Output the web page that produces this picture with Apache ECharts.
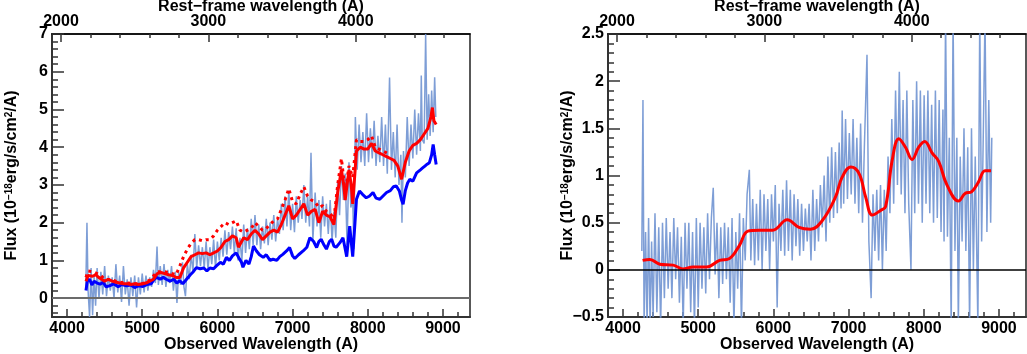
<!DOCTYPE html>
<html>
<head>
<meta charset="utf-8">
<title>Spectrum</title>
<script src="https://cdn.jsdelivr.net/npm/echarts@6/dist/echarts.min.js"></script>
<style>
  html, body { margin: 0; padding: 0; background: #fff; }
  #main { width: 1027px; height: 354px; }
</style>
</head>
<body>
<div id="main"></div>
<script>
// observed / rest-frame wavelength ratio (1+z)
var zFactor = 1.96;
var obsMin = 3800, obsMax = 9360;

// tick values
var obsMajor = [4000, 5000, 6000, 7000, 8000, 9000];
var obsMinor = [4200, 4400, 4600, 4800, 5200, 5400, 5600, 5800, 6200, 6400, 6600, 6800,
                7200, 7400, 7600, 7800, 8200, 8400, 8600, 8800, 9200];
var restMajor = [2000, 3000, 4000];
var restMinor = [2200, 2400, 2600, 2800, 3200, 3400, 3600, 3800, 4200, 4400, 4600];
var fluxMajorL = [0, 1, 2, 3, 4, 5, 6, 7];
var fluxMajorR = [-0.5, 0, 0.5, 1, 1.5, 2, 2.5];

// left panel: observed spectrum (noisy)
var specL = [[4250,0.3],[4265,2.0],[4280,0.2],[4300,-0.5],[4320,0.8],[4340,-0.45],[4360,0.6],[4380,-0.2],
  [4400,0.8],[4425,0.0],[4450,0.7],[4475,0.1],[4500,0.85],[4525,0.05],[4550,0.6],[4575,0.2],[4600,0.55],
  [4625,0.0],[4650,0.9],[4675,0.15],[4700,0.6],[4725,-0.1],[4750,0.85],[4775,0.1],[4800,0.5],[4825,-0.2],
  [4850,0.55],[4875,0.05],[4900,0.6],[4925,-0.25],[4950,0.55],[4975,0.1],[5000,0.65],[5025,0.15],[5050,0.6],
  [5075,0.2],[5100,0.55],[5125,0.3],[5150,0.75],[5175,0.4],[5197,1.37],[5215,0.35],[5240,0.85],[5265,0.35],
  [5290,0.9],[5315,0.3],[5340,0.75],[5365,0.4],[5390,0.85],[5415,0.2],[5440,0.7],[5462,-0.13],[5485,0.7],
  [5510,0.35],[5535,0.95],[5555,0.3],[5575,0.05],[5600,0.9],[5625,0.5],[5650,1.15],[5675,0.7],[5700,1.7],
  [5725,0.8],[5750,1.4],[5775,0.85],[5800,1.35],[5825,0.8],[5850,1.5],[5875,0.75],[5900,1.35],[5925,0.9],
  [5950,1.55],[5975,0.8],[6000,1.5],[6025,1.0],[6050,1.6],[6075,1.1],[6100,1.8],[6125,1.15],[6150,1.75],
  [6175,1.3],[6200,1.9],[6225,1.2],[6250,1.85],[6275,1.0],[6300,1.6],[6325,0.95],[6350,1.95],[6375,1.2],
  [6400,1.85],[6425,1.3],[6450,2.1],[6475,1.4],[6500,2.2],[6525,1.4],[6550,1.95],[6575,1.3],[6600,1.9],
  [6625,1.45],[6650,2.1],[6675,1.4],[6700,2.0],[6725,1.55],[6750,2.2],[6775,1.5],[6800,2.1],[6825,1.7],
  [6850,2.5],[6875,1.8],[6900,2.7],[6925,1.9],[6950,2.85],[6975,1.8],[7000,2.5],[7025,1.75],[7050,2.7],
  [7075,2.0],[7100,2.6],[7125,2.1],[7150,3.0],[7175,2.0],[7200,2.7],[7225,1.9],[7245,3.85],[7270,1.5],
  [7300,2.8],[7325,1.9],[7350,2.6],[7375,1.6],[7400,2.7],[7425,1.9],[7450,2.5],[7475,1.7],[7500,2.6],
  [7525,1.5],[7550,2.3],[7575,1.6],[7600,3.1],[7625,2.2],[7650,3.5],[7675,2.6],[7700,3.3],[7725,1.4],
  [7750,3.6],[7775,2.4],[7800,2.6],[7815,1.3],[7835,4.8],[7860,3.4],[7885,4.6],[7910,3.6],[7935,4.4],
  [7960,3.5],[7985,4.9],[8010,3.6],[8035,4.5],[8060,3.7],[8085,4.7],[8110,3.5],[8135,4.3],[8160,3.6],
  [8185,4.8],[8210,3.5],[8235,4.6],[8260,3.3],[8290,5.85],[8315,3.4],[8340,4.4],[8365,3.2],[8390,4.6],
  [8415,3.0],[8440,3.8],[8455,2.0],[8475,3.9],[8500,3.2],[8525,4.8],[8550,3.5],[8575,4.6],[8600,3.7],
  [8625,5.0],[8650,3.8],[8675,4.9],[8700,3.9],[8712,5.9],[8725,4.2],[8750,4.1],[8770,7.0],[8790,4.2],
  [8810,5.4],[8830,4.3],[8850,5.5],[8870,4.4],[8890,5.85],[8905,4.8]];

// left panel: model fits
var blueL = [[4252,0.2],[4270,0.45],[4300,0.5],[4330,0.35],[4360,0.45],[4400,0.4],[4440,0.37],[4480,0.42],
  [4520,0.3],[4570,0.33],[4620,0.38],[4680,0.3],[4730,0.36],[4790,0.33],[4850,0.35],[4900,0.28],[4950,0.33],
  [5010,0.31],[5060,0.36],[5120,0.38],[5160,0.5],[5190,0.55],[5240,0.5],[5280,0.55],[5320,0.5],[5370,0.45],
  [5420,0.5],[5460,0.4],[5500,0.46],[5540,0.38],[5590,0.5],[5640,0.62],[5680,0.7],[5720,0.81],[5770,0.78],
  [5820,0.8],[5860,0.72],[5900,0.8],[5950,0.78],[5990,0.86],[6040,0.95],[6080,0.9],[6120,1.08],[6160,1.0],
  [6200,1.12],[6250,1.2],[6290,1.05],[6320,0.95],[6340,0.82],[6380,1.0],[6420,0.9],[6450,1.1],[6480,1.38],
  [6520,1.25],[6560,1.15],[6610,1.08],[6650,1.15],[6700,1.0],[6740,1.03],[6790,1.0],[6830,1.1],[6870,1.16],
  [6920,1.25],[6960,1.34],[7000,1.12],[7030,1.05],[7080,1.15],[7140,1.25],[7190,1.35],[7230,1.6],[7280,1.5],
  [7320,1.34],[7350,1.5],[7380,1.56],[7420,1.4],[7450,1.3],[7490,1.5],[7520,1.56],[7550,1.38],[7580,1.35],
  [7630,1.47],[7670,1.6],[7700,1.3],[7720,1.1],[7745,1.6],[7760,1.91],[7780,1.5],[7800,1.1],[7830,2.0],
  [7850,2.62],[7890,2.84],[7930,2.75],[7980,2.66],[8020,2.7],[8070,2.8],[8110,2.65],[8160,2.62],[8200,2.7],
  [8250,2.8],[8300,2.85],[8340,2.95],[8380,2.97],[8420,2.84],[8450,2.6],[8470,2.49],[8500,2.85],[8530,3.05],
  [8560,3.15],[8600,3.1],[8650,3.32],[8700,3.4],[8730,3.45],[8760,3.5],[8790,3.55],[8820,3.59],[8850,3.8],
  [8870,4.07],[8890,3.8],[8910,3.54]];

var redL = [[4252,0.45],[4280,0.6],[4300,0.65],[4340,0.58],[4380,0.62],[4420,0.55],[4460,0.5],[4500,0.45],
  [4550,0.5],[4600,0.45],[4650,0.42],[4700,0.4],[4750,0.38],[4800,0.38],[4850,0.36],[4900,0.38],[4950,0.36],
  [5000,0.38],[5050,0.4],[5100,0.45],[5150,0.5],[5200,0.65],[5250,0.68],[5300,0.65],[5350,0.62],[5400,0.6],
  [5450,0.55],[5500,0.55],[5550,0.8],[5600,0.95],[5650,1.1],[5700,1.15],[5750,1.2],[5800,1.18],[5850,1.2],
  [5900,1.15],[5950,1.2],[6000,1.25],[6050,1.35],[6100,1.5],[6150,1.55],[6200,1.65],[6250,1.6],[6280,1.35],
  [6300,1.3],[6350,1.6],[6400,1.55],[6450,1.7],[6500,1.8],[6550,1.7],[6600,1.55],[6650,1.65],[6700,1.75],
  [6750,1.8],[6800,1.75],[6850,1.95],[6900,2.2],[6950,2.45],[7000,2.1],[7050,2.2],[7100,2.35],[7150,2.5],
  [7200,2.2],[7250,2.3],[7300,2.35],[7350,2.0],[7400,2.3],[7450,2.2],[7500,2.15],[7550,1.95],[7600,2.8],
  [7650,3.4],[7680,3.0],[7700,2.6],[7750,3.4],[7780,3.0],[7800,2.5],[7850,3.9],[7900,4.0],[7950,3.95],
  [8000,3.95],[8050,4.1],[8100,3.9],[8150,3.85],[8200,3.8],[8250,3.75],[8300,3.7],[8350,3.65],[8400,3.5],
  [8450,3.15],[8500,3.6],[8550,3.9],[8600,4.05],[8650,4.1],[8700,4.2],[8750,4.35],[8800,4.5],[8840,4.8],
  [8860,5.05],[8880,4.7],[8910,4.6]];

var redDotL = [[4252,0.55],[4280,0.72],[4300,0.75],[4350,0.7],[4400,0.65],[4450,0.6],[4500,0.5],[4600,0.48],
  [4700,0.42],[4800,0.4],[4900,0.38],[5000,0.38],[5100,0.48],[5200,0.7],[5300,0.7],[5400,0.65],[5450,0.62],
  [5500,0.85],[5550,1.1],[5600,1.3],[5650,1.45],[5700,1.55],[5750,1.55],[5800,1.52],[5850,1.55],[5900,1.55],
  [5950,1.65],[6000,1.8],[6050,1.9],[6100,2.0],[6150,1.95],[6200,2.0],[6250,2.05],[6300,1.8],[6350,1.75],
  [6400,1.8],[6450,1.85],[6500,2.0],[6550,1.9],[6600,1.8],[6650,1.85],[6700,1.95],[6750,2.05],[6800,2.1],
  [6850,2.35],[6900,2.6],[6950,2.9],[7000,2.55],[7050,2.5],[7100,2.75],[7150,2.95],[7200,2.7],[7250,2.6],
  [7300,2.55],[7350,2.4],[7400,2.45],[7450,2.3],[7500,2.25],[7550,2.1],[7600,3.0],[7650,3.7],[7700,2.8],
  [7750,3.5],[7800,3.2],[7850,4.2],[7900,4.15],[7950,4.15],[8000,4.2],[8050,4.3],[8100,4.0],[8150,3.95],
  [8200,3.9],[8250,3.85],[8300,3.8]];

// right panel: residual spectrum (noisy)
var specR = [[4250,0.2],[4265,1.8],[4280,-0.6],[4300,0.4],[4320,-0.6],[4340,0.55],[4360,-0.6],[4380,0.3],
  [4400,-0.5],[4425,0.6],[4450,-0.45],[4475,0.45],[4500,-0.6],[4525,0.5],[4550,-0.3],[4575,0.55],[4600,-0.2],
  [4625,0.4],[4650,-0.3],[4675,0.55],[4700,-0.1],[4725,0.45],[4750,-0.35],[4775,0.35],[4800,-0.6],[4825,0.5],
  [4850,-0.2],[4875,0.5],[4900,-0.45],[4925,0.4],[4950,-0.6],[4975,0.55],[5000,-0.4],[5025,0.5],[5050,-0.2],
  [5075,0.45],[5100,-0.25],[5125,0.6],[5150,-0.1],[5175,0.55],[5200,0.87],[5225,-0.05],[5250,0.5],[5275,-0.3],
  [5300,0.45],[5325,-0.15],[5350,0.5],[5375,-0.1],[5400,0.45],[5425,-0.35],[5450,0.55],[5475,-0.6],[5500,0.4],
  [5525,-0.2],[5550,0.6],[5575,-0.6],[5600,0.55],[5625,0.1],[5650,0.8],[5680,1.06],[5700,0.1],[5725,0.75],
  [5750,0.05],[5775,0.7],[5800,0.1],[5825,0.85],[5850,0.0],[5875,0.8],[5900,0.2],[5925,0.75],[5950,0.0],
  [5975,0.8],[6000,0.3],[6025,0.9],[6050,-0.4],[6075,0.7],[6100,0.2],[6125,0.85],[6150,0.15],[6175,0.95],
  [6200,0.2],[6225,0.85],[6250,0.1],[6275,0.8],[6300,0.25],[6325,0.75],[6350,0.15],[6375,0.7],[6400,0.2],
  [6425,0.65],[6450,0.3],[6475,0.7],[6500,0.1],[6525,0.85],[6550,0.2],[6575,0.75],[6600,0.3],[6625,0.9],
  [6650,0.45],[6675,1.0],[6700,0.3],[6725,1.2],[6750,0.5],[6775,1.3],[6800,0.55],[6825,1.25],[6850,0.6],
  [6875,1.35],[6900,0.65],[6915,1.69],[6935,0.7],[6960,1.6],[6985,0.75],[7010,1.45],[7035,0.8],[7060,1.6],
  [7085,0.7],[7110,1.4],[7135,0.6],[7160,1.55],[7185,0.5],[7210,1.3],[7245,2.28],[7270,0.3],[7300,-0.3],
  [7325,0.8],[7350,0.2],[7375,0.85],[7400,0.1],[7425,0.9],[7450,0.0],[7475,0.85],[7500,0.2],[7525,1.2],
  [7550,0.6],[7575,1.6],[7600,0.7],[7625,1.9],[7650,0.9],[7675,2.1],[7700,0.8],[7725,1.8],[7750,0.6],
  [7775,1.9],[7800,0.7],[7830,0.0],[7855,1.8],[7880,0.6],[7905,2.0],[7930,0.7],[7955,1.9],[7980,0.5],
  [8005,1.85],[8030,0.7],[8055,1.9],[8080,0.6],[8105,1.75],[8130,0.5],[8155,1.9],[8180,0.55],[8205,1.8],
  [8230,0.4],[8255,1.7],[8270,0.3],[8290,2.7],[8315,0.35],[8340,1.4],[8365,-0.6],[8390,2.7],[8415,0.2],
  [8440,1.4],[8460,-0.6],[8485,1.2],[8510,0.3],[8535,1.5],[8560,0.2],[8585,1.3],[8610,-0.6],[8635,1.5],
  [8660,0.0],[8685,1.2],[8720,-0.6],[8745,2.7],[8770,0.3],[8795,1.6],[8815,2.7],[8840,0.4],[8865,1.8],
  [8890,0.5],[8905,1.4]];

// right panel: smoothed residual
var smoothR = [[4260,0.10],[4357,0.11],[4490,0.06],[4665,0.05],[4797,0.01],[4930,0.03],[5110,0.03],
  [5284,0.10],[5416,0.12],[5549,0.26],[5660,0.41],[5814,0.42],[5990,0.42],[6184,0.53],[6340,0.45],
  [6493,0.43],[6648,0.52],[6825,0.77],[6913,0.98],[7030,1.09],[7140,1.02],[7228,0.77],[7316,0.58],
  [7426,0.63],[7492,0.67],[7580,1.16],[7668,1.39],[7757,1.30],[7845,1.17],[7933,1.30],[8013,1.36],
  [8110,1.24],[8198,1.15],[8308,0.90],[8462,0.73],[8550,0.81],[8639,0.83],[8727,0.93],[8815,1.05],[8895,1.05]];

var FONT = 'Liberation Sans, Arial, Helvetica, sans-serif';
var AXIS_COLOR = '#333';

function minorTicks(min, max, step, skip) {
  var out = [];
  for (var v = min; v <= max + 1e-9; v += step) {
    var r = Math.round(v * 100) / 100;
    if (Math.abs(r / skip - Math.round(r / skip)) > 1e-6) out.push(r);
  }
  return out;
}
var fluxMinorL = minorTicks(-0.4, 6.8, 0.2, 1);
var fluxMinorR = minorTicks(-0.4, 2.4, 0.1, 0.5);

var labelStyle = { fontSize: 16, fontWeight: 'bold', color: '#000', fontFamily: FONT };
var nameStyle = { fontSize: 16, fontWeight: 'bold', color: '#000', fontFamily: FONT };
function plain(v) { return String(v).replace('-', '\u2212'); }

function xAxes(g) {
  var base = { type: 'value', gridIndex: g, splitLine: { show: false } };
  return [
    Object.assign({}, base, {
      position: 'bottom', min: obsMin, max: obsMax,
      name: 'Observed Wavelength (A)', nameLocation: 'middle', nameGap: 20, nameMoveOverlap: false, nameTextStyle: nameStyle,
      axisLine: { show: true, onZero: false, lineStyle: { color: AXIS_COLOR, width: 2 } },
      axisTick: { show: true, inside: true, length: 8, customValues: obsMajor, lineStyle: { color: AXIS_COLOR, width: 1.5 } },
      axisLabel: Object.assign({ margin: 4, customValues: obsMajor, formatter: plain }, labelStyle)
    }),
    Object.assign({}, base, {
      position: 'bottom', min: obsMin, max: obsMax,
      axisLine: { show: false, onZero: false },
      axisTick: { show: true, inside: true, length: 5, customValues: obsMinor, lineStyle: { color: AXIS_COLOR, width: 1.5 } },
      axisLabel: { show: false }
    }),
    Object.assign({}, base, {
      position: 'top', min: obsMin / zFactor, max: obsMax / zFactor,
      name: 'Rest\u2212frame wavelength (A)', nameLocation: 'middle', nameGap: 19, nameMoveOverlap: false, nameTextStyle: nameStyle,
      axisLine: { show: true, onZero: false, lineStyle: { color: '#000', width: 1.5 } },
      axisTick: { show: true, inside: true, length: 8, customValues: restMajor, lineStyle: { color: AXIS_COLOR, width: 1.5 } },
      axisLabel: Object.assign({ margin: 4, customValues: restMajor, formatter: plain }, labelStyle)
    }),
    Object.assign({}, base, {
      position: 'top', min: obsMin / zFactor, max: obsMax / zFactor,
      axisLine: { show: false, onZero: false },
      axisTick: { show: true, inside: true, length: 4, customValues: restMinor, lineStyle: { color: AXIS_COLOR, width: 1.5 } },
      axisLabel: { show: false }
    })
  ];
}

function yAxes(g, min, max, major, minor, nameGap) {
  var base = { type: 'value', gridIndex: g, position: 'left', min: min, max: max, splitLine: { show: false } };
  return [
    Object.assign({}, base, {
      name: 'Flux (10{sup|\u221218}erg/s/cm{sup|2}/A)', nameLocation: 'middle', nameGap: nameGap, nameMoveOverlap: false,
      nameTextStyle: Object.assign({ rich: { sup: { fontSize: 10, fontWeight: 'bold', fontFamily: FONT, color: '#000', verticalAlign: 'top' } } }, nameStyle),
      axisLine: { show: true, onZero: false, lineStyle: { color: AXIS_COLOR, width: 2 } },
      axisTick: { show: true, inside: true, length: 12, customValues: major, lineStyle: { color: AXIS_COLOR, width: 1.5 } },
      axisLabel: Object.assign({ margin: 4, customValues: major, formatter: plain }, labelStyle)
    }),
    Object.assign({}, base, {
      axisLine: { show: false, onZero: false },
      axisTick: { show: true, inside: true, length: 6, customValues: minor, lineStyle: { color: AXIS_COLOR, width: 1.5 } },
      axisLabel: { show: false }
    })
  ];
}

function zeroLine(color, width) {
  return {
    silent: true, symbol: ['none', 'none'], label: { show: false },
    lineStyle: { color: color, width: width, type: 'solid' },
    data: [{ yAxis: 0 }]
  };
}

var SPEC_COLOR = 'rgba(112,147,210,0.9)';

var chart = echarts.init(document.getElementById('main'));
chart.setOption({
  animation: false,
  backgroundColor: '#fff',
  grid: [
    { left: 52, right: 557, top: 34, bottom: 37, show: true, borderColor: '#222', borderWidth: 1.5,
      containLabel: false, outerBoundsMode: 'none' },
    { left: 608, right: 1, top: 34, bottom: 37, show: true, borderColor: '#222', borderWidth: 1.5,
      containLabel: false, outerBoundsMode: 'none' }
  ],
  xAxis: xAxes(0).concat(xAxes(1)),
  yAxis: yAxes(0, -0.5, 7, fluxMajorL, fluxMinorL, 32).concat(yAxes(1, -0.5, 2.5, fluxMajorR, fluxMinorR, 32)),
  series: [
    { type: 'line', xAxisIndex: 0, yAxisIndex: 0, data: specL, showSymbol: false,
      lineStyle: { color: SPEC_COLOR, width: 1.5 }, markLine: zeroLine('#6b6b6b', 2) },
    { type: 'line', xAxisIndex: 0, yAxisIndex: 0, data: blueL, showSymbol: false,
      lineStyle: { color: '#0000ff', width: 3 } },
    { type: 'line', xAxisIndex: 0, yAxisIndex: 0, data: redDotL, showSymbol: false,
      lineStyle: { color: '#ff0000', width: 3, type: [3, 4] } },
    { type: 'line', xAxisIndex: 0, yAxisIndex: 0, data: redL, showSymbol: false,
      lineStyle: { color: '#ff0000', width: 3 } },
    { type: 'line', xAxisIndex: 4, yAxisIndex: 2, data: specR, showSymbol: false,
      lineStyle: { color: SPEC_COLOR, width: 1.5 }, markLine: zeroLine('#000', 1.5) },
    { type: 'line', xAxisIndex: 4, yAxisIndex: 2, data: smoothR, showSymbol: false, smooth: 0.4,
      lineStyle: { color: '#ff0000', width: 3 } }
  ]
});
</script>
</body>
</html>
